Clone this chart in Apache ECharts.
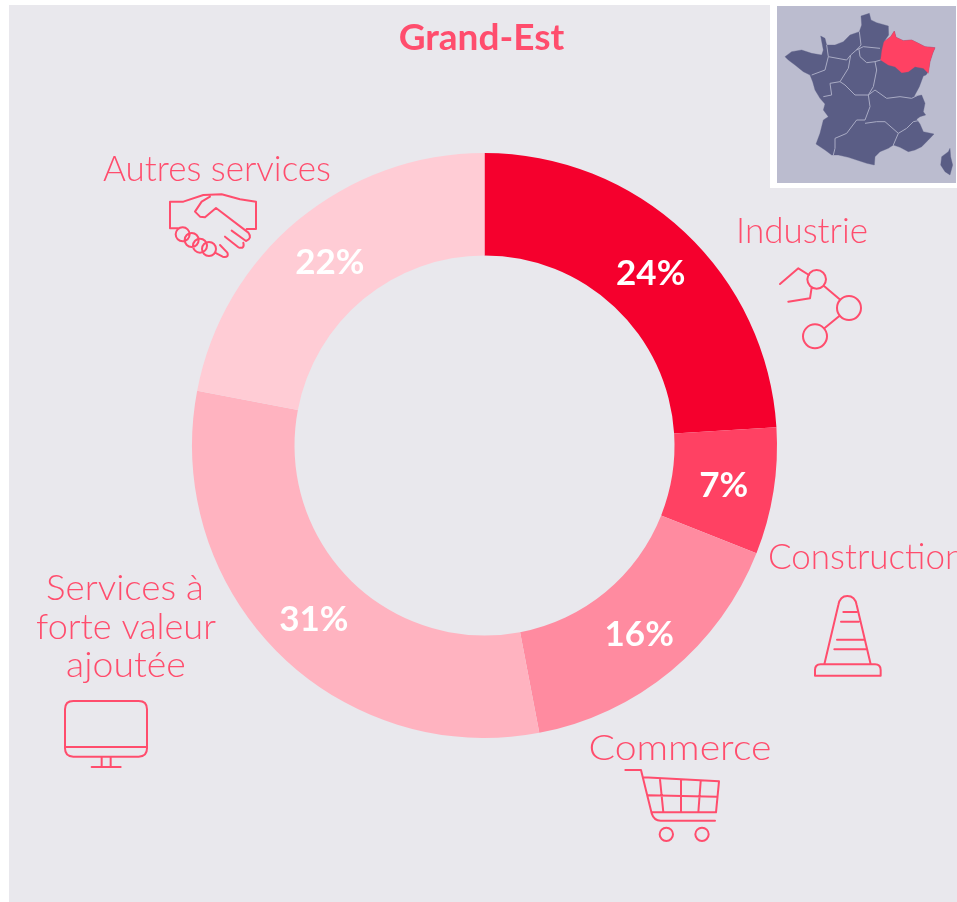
<!DOCTYPE html>
<html>
<head>
<meta charset="utf-8">
<title>Grand-Est</title>
<script src="https://cdn.jsdelivr.net/npm/echarts@6/dist/echarts.min.js"></script>
<style>
html, body { margin: 0; padding: 0; background: #fff; }
#main { width: 957px; height: 902px; }
</style>
</head>
<body>
<div id="main"></div>
<script>
const regionTitle = 'Grand-Est';
const categories = ['Industrie', 'Construction', 'Commerce', 'Services à forte valeur ajoutée', 'Autres services'];
const shares = [24, 7, 16, 31, 22];
const sliceColors = ['#f5002d', '#ff4163', '#ff8ba0', '#ffb3c0', '#ffccd5'];
const labelNudges = [[-1, 6], [-2, 2], [-1, 1], [2, 2], [1, 5]];

const pink = '#ff4d6d';
const font = 'Lato';

function circle(cx, cy, r) {
    return `M${cx - r},${cy} A${r},${r} 0 1 1 ${cx + r},${cy} A${r},${r} 0 1 1 ${cx - r},${cy} Z `;
}

// tracés en coordonnees x3 (comme les zooms), remis a l'echelle par scale 1/3
let shapeCount = 0;
function rawPath(d, x, y, style) {
    const name = 'svgShape' + (shapeCount++);
    echarts.graphic.registerShape(name, echarts.graphic.extendPath(d, {}));
    return {
        type: name,
        silent: true,
        x: x,
        y: y,
        scaleX: 1 / 3,
        scaleY: 1 / 3,
        style: style
    };
}

function iconPath(d, x, y) {
    return rawPath(d, x, y, { fill: 'none', stroke: pink, lineWidth: 6, lineJoin: 'round', lineCap: 'round' });
}

function label(text, x, y, align, stretch) {
    return {
        type: 'text',
        x: x,
        y: y,
        scaleX: stretch || 1,
        silent: true,
        style: {
            text: text,
            font: '300 35px ' + font,
            fill: pink,
            align: align || 'center',
            verticalAlign: 'middle'
        }
    };
}

const handshake = 'M60,185 L100,185 L160,165 L215,163 L270,178 L318,185 L318,267 L290,267 '
    + 'M60,185 L60,265 L85,265 '
    + 'M180,170 L155,185 L135,215 L150,230 L165,232 L198,204 L295,278 Q308,295 288,303 L245,272 '
    + 'M225,290 L265,322 Q285,328 280,308 '
    + 'M210,315 L232,338 Q238,354 218,350 L195,338 '
    + circle(98, 283, 21) + circle(125, 300, 21) + circle(150, 317, 21) + circle(177, 327, 21);
const robot = 'M150,222 L205,175 L237,195 M245,232 L240,265 L175,275 M282,228 L328,267 M328,318 L285,353 '
    + circle(260, 208, 28) + circle(357, 294, 36) + circle(255, 379, 36);
const cone = 'M733,403 L775,225 Q780,198 802,198 Q825,198 830,225 L872,403 '
    + 'M705,437 L705,420 Q705,403 722,403 L885,403 Q902,403 902,420 L902,437 Z '
    + 'M790,246 L830,246 M783,275 L836,275 M771,329 L850,329 M763,358 L858,358';
const cart = 'M136,720 L183,720 L215,850 Q222,872 242,872 L405,872 '
    + 'M190,742 L417,754 L408,847 L215,847 M205,796 L410,800 '
    + 'M240,748 L250,847 M303,750 L303,847 M362,754 L355,847 '
    + circle(259, 913, 20) + circle(366, 913, 20);
const monitor = 'M220,423 L416,423 Q441,423 441,448 L441,565 Q441,590 416,590 L220,590 Q195,590 195,565 L195,448 Q195,423 220,423 Z '
    + 'M195,561 L441,561 M305,590 L305,620 M332,590 L332,620 M275,621 L362,621';

const france = 'M303,48 L328,40 L333,60 L350,68 L385,78 L386,105 L372,125 L392,110 L403,93 L408,112 L430,122 L455,120 L475,130 L495,140 L525,143 '
    + 'L518,160 L510,185 L505,215 L498,225 L490,228 L478,260 L462,290 L485,285 L495,310 L490,335 L497,345 L480,350 L470,358 L480,372 L490,395 '
    + 'L522,402 L505,420 L485,440 L465,450 L445,455 L420,442 L400,435 L385,445 L360,455 L345,470 L343,495 L320,490 L290,480 L265,472 L235,465 '
    + 'L215,465 L195,450 L168,432 L180,400 L190,360 L205,350 L190,330 L195,312 L180,295 L165,270 L158,245 L150,225 L130,215 L105,195 L85,180 '
    + 'L75,170 L95,155 L125,150 L155,160 L185,165 L190,150 L182,108 L195,115 L200,135 L225,135 L250,125 L270,105 L298,95 L305,75 Z '
    + 'M570,445 L572,470 L578,495 L570,525 L555,515 L542,495 L545,470 L565,455 Z';
const grandEst = 'M372,125 L392,110 L403,93 L408,112 L430,122 L455,120 L475,130 L495,140 L525,143 L518,160 L510,185 L505,220 '
    + 'L490,205 L465,200 L445,215 L425,218 L405,200 L385,195 L362,180 L366,150 Z';
const borders = 'M298,95 L303,135 L290,150 L310,140 L360,145 '
    + 'M200,135 L205,170 L260,180 L272,165 L295,145 '
    + 'M205,170 L195,210 L155,225 '
    + 'M297,148 L300,170 L320,188 L345,185 L362,180 '
    + 'M272,165 L265,205 L240,245 L210,250 L215,285 L190,290 '
    + 'M345,185 L350,210 L340,260 L325,285 L285,285 L255,255 L240,245 '
    + 'M325,285 L345,270 L380,295 L420,290 L455,295 L475,285 '
    + 'M325,285 L330,320 L315,360 L290,360 L260,400 L225,415 L225,445 L220,465 '
    + 'M315,370 L350,365 L375,365 L415,400 L400,435 '
    + 'M415,400 L440,385 L460,365 L475,362';

const myEcharts = echarts.init(document.getElementById('main'));
const option = {
    animation: false,
    backgroundColor: '#ffffff',
    title: {
        text: regionTitle,
        left: 476.5,
        top: 15,
        textAlign: 'center',
        textStyle: { color: pink, fontFamily: font, fontWeight: 'bold', fontSize: 37 }
    },
    series: [
        {
            type: 'pie',
            center: [484.5, 445.5],
            radius: [190, 292.5],
            startAngle: 90,
            clockwise: true,
            silent: true,
            color: sliceColors,
            label: {
                position: 'inside',
                formatter: '{c}%',
                color: '#ffffff',
                fontFamily: font,
                fontWeight: 'bold',
                fontSize: 35
            },
            labelLine: { show: false },
            data: categories.map((name, i) => ({
                name: name,
                value: shares[i],
                label: { offset: labelNudges[i] }
            }))
        }
    ],
    graphic: [
        { type: 'rect', z: -10, silent: true, shape: { x: 9, y: 5, width: 948, height: 897 }, style: { fill: '#e9e8ed' } },
        { type: 'rect', z: -9, silent: true, shape: { x: 770, y: 0, width: 187, height: 188 }, style: { fill: '#ffffff' } },
        { type: 'rect', z: -8, silent: true, shape: { x: 777, y: 6, width: 179, height: 177 }, style: { fill: '#bbbccf' } },
        rawPath(france, 760, 0, { fill: '#5a5d85', stroke: '#5a5d85', lineWidth: 1 }),
        rawPath(borders, 760, 0, { fill: 'none', stroke: '#a9abc4', lineWidth: 3 }),
        rawPath(grandEst, 760, 0, { fill: '#ff4163', stroke: '#ff4163', lineWidth: 1 }),
        label(categories[4], 217, 170),
        label(categories[0], 802, 232),
        label(categories[1], 768, 558, 'left'),
        label(categories[2], 680, 749, 'center', 1.12),
        label('Services à', 125, 589, 'center', 1.05),
        label('forte valeur', 126, 628, 'center', 1.03),
        label('ajoutée', 126, 666, 'center', 1.07),
        iconPath(handshake, 150, 140),
        iconPath(robot, 730, 210),
        iconPath(cone, 580, 530),
        iconPath(cart, 580, 530),
        iconPath(monitor, 0, 560)
    ]
};
myEcharts.setOption(option);
</script>
</body>
</html>
